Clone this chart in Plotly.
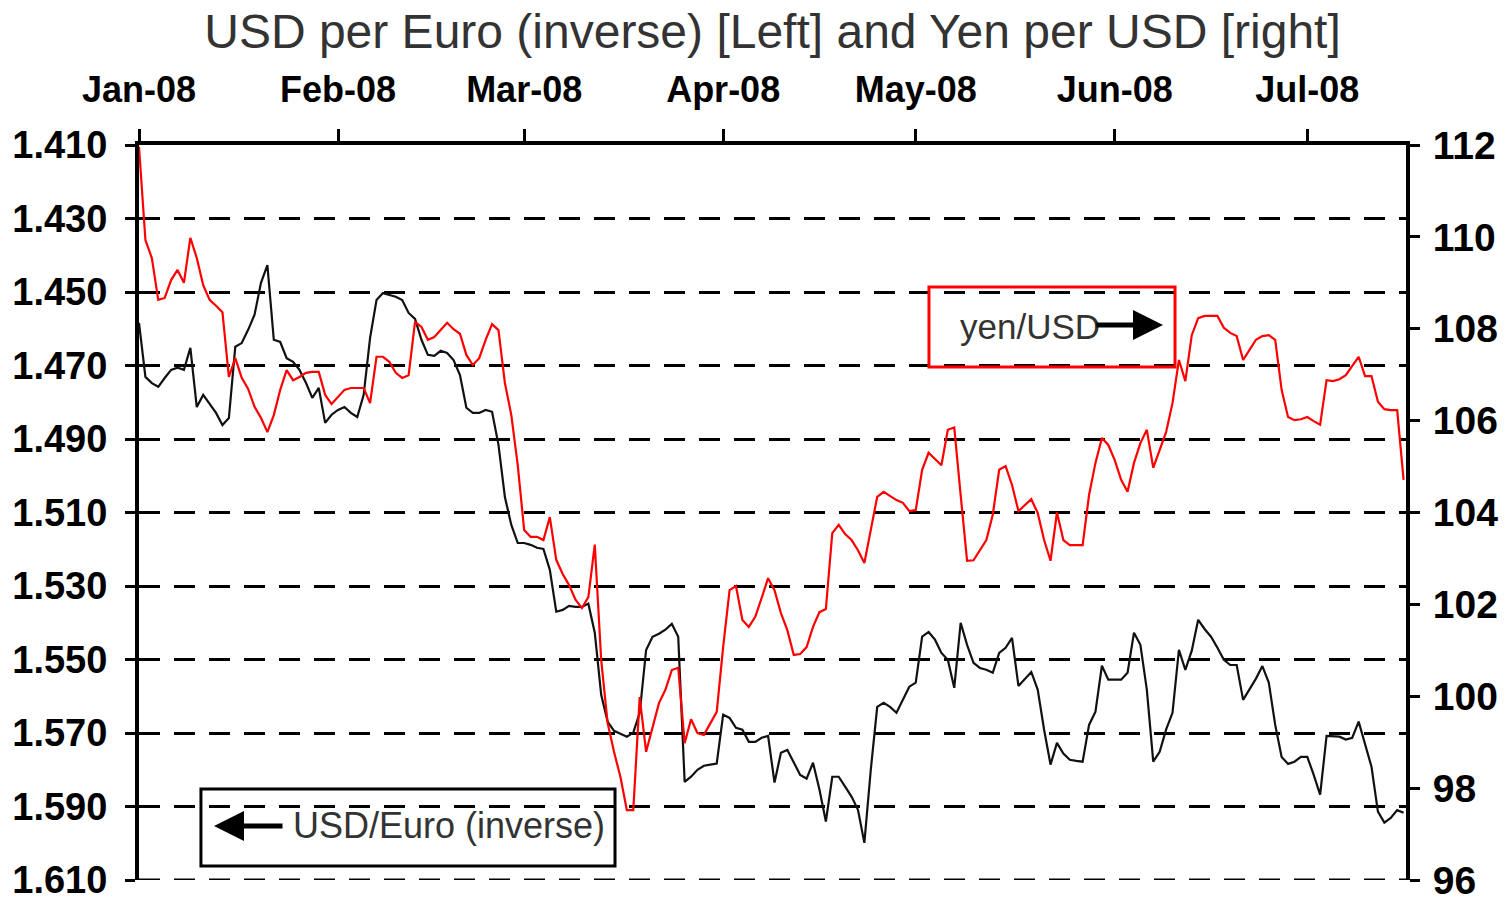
import plotly.graph_objects as go
import pandas as pd

# ---------------- data ----------------
START_DATE = "2008-01-01"          # first daily observation
END_OF_AXIS = "2008-07-16 09:00"   # right edge of the date axis

# USD per Euro (plotted on an inverted left axis), daily
usd_per_euro = [
    1.4584, 1.4731, 1.4748, 1.4758, 1.4734, 1.4712, 1.4706, 1.4712, 1.4652, 1.4813,
    1.4780, 1.4805, 1.4829, 1.4862, 1.4843, 1.4649, 1.4639, 1.4603, 1.4562, 1.4475,
    1.4427, 1.4630, 1.4636, 1.4680, 1.4690, 1.4712, 1.4747, 1.4788, 1.4761, 1.4856,
    1.4834, 1.4821, 1.4813, 1.4829, 1.4840, 1.4780, 1.4625, 1.4522, 1.4503, 1.4508,
    1.4513, 1.4522, 1.4557, 1.4573, 1.4630, 1.4671, 1.4674, 1.4660, 1.4666, 1.4685,
    1.4726, 1.4815, 1.4829, 1.4829, 1.4821, 1.4826, 1.4916, 1.5058, 1.5134, 1.5183,
    1.5183, 1.5188, 1.5196, 1.5199, 1.5256, 1.5370, 1.5365, 1.5354, 1.5357, 1.5357,
    1.5348, 1.5427, 1.5596, 1.5669, 1.5694, 1.5702, 1.5710, 1.5699, 1.5645, 1.5474,
    1.5438, 1.5430, 1.5419, 1.5403, 1.5438, 1.5833, 1.5819, 1.5800, 1.5789, 1.5786,
    1.5783, 1.5650, 1.5659, 1.5686, 1.5691, 1.5724, 1.5724, 1.5713, 1.5708, 1.5835,
    1.5754, 1.5746, 1.5781, 1.5814, 1.5824, 1.5781, 1.5854, 1.5941, 1.5819, 1.5819,
    1.5846, 1.5873, 1.5909, 1.5999, 1.5800, 1.5629, 1.5618, 1.5629, 1.5645, 1.5610,
    1.5574, 1.5563, 1.5438, 1.5425, 1.5446, 1.5482, 1.5501, 1.5577, 1.5400, 1.5460,
    1.5509, 1.5523, 1.5528, 1.5536, 1.5482, 1.5468, 1.5441, 1.5572, 1.5553, 1.5534,
    1.5582, 1.5691, 1.5786, 1.5727, 1.5756, 1.5773, 1.5776, 1.5778, 1.5678, 1.5642,
    1.5517, 1.5555, 1.5555, 1.5555, 1.5536, 1.5427, 1.5460, 1.5582, 1.5778, 1.5751,
    1.5691, 1.5645, 1.5474, 1.5528, 1.5476, 1.5392, 1.5417, 1.5438, 1.5468, 1.5501,
    1.5515, 1.5515, 1.5610, 1.5582, 1.5552, 1.5518, 1.5563, 1.5678, 1.5765, 1.5784,
    1.5778, 1.5765, 1.5765, 1.5814, 1.5868, 1.5708, 1.5710, 1.5710, 1.5718, 1.5713,
    1.5669, 1.5727, 1.5792, 1.5914, 1.5944, 1.5931, 1.5910, 1.5917,
]

# Yen per USD (right axis), daily
yen_per_usd = [
    111.96, 109.93, 109.54, 108.63, 108.67, 109.06, 109.28, 109.00, 109.98, 109.54,
    108.95, 108.63, 108.50, 108.36, 106.95, 107.36, 106.93, 106.69, 106.30, 106.06,
    105.75, 106.12, 106.67, 107.10, 106.88, 106.95, 107.04, 107.06, 107.06, 106.56,
    106.36, 106.51, 106.67, 106.71, 106.71, 106.71, 106.38, 107.39, 107.39, 107.28,
    107.04, 106.93, 106.99, 108.15, 108.04, 107.76, 107.82, 107.97, 108.13, 107.99,
    107.89, 107.43, 107.21, 107.36, 107.76, 108.10, 107.97, 106.82, 106.12, 105.03,
    103.62, 103.47, 103.47, 103.40, 103.90, 102.97, 102.66, 102.42, 102.10, 101.92,
    102.16, 103.30, 100.79, 99.42, 98.79, 98.24, 97.52, 97.52, 99.98, 98.79,
    99.33, 99.85, 100.14, 100.57, 100.62, 98.98, 99.50, 99.20, 99.16, 99.42,
    99.66, 101.07, 102.31, 102.40, 101.66, 101.51, 101.73, 102.14, 102.57, 102.31,
    101.81, 101.44, 100.90, 100.92, 101.07, 101.51, 101.83, 101.90, 103.55, 103.73,
    103.53, 103.40, 103.18, 102.90, 103.58, 104.34, 104.45, 104.36, 104.27, 104.21,
    104.03, 104.05, 104.93, 105.30, 105.17, 105.03, 105.80, 105.85, 104.38, 102.95,
    102.96, 103.18, 103.40, 103.95, 104.93, 105.01, 104.60, 104.03, 104.16, 104.29,
    103.99, 103.40, 102.95, 104.00, 103.40, 103.29, 103.29, 103.29, 104.38, 105.08,
    105.62, 105.47, 105.14, 104.71, 104.45, 105.08, 105.51, 105.80, 104.97, 105.36,
    105.75, 106.38, 107.32, 106.86, 107.86, 108.23, 108.28, 108.28, 108.28, 108.02,
    107.91, 107.84, 107.32, 107.54, 107.76, 107.84, 107.86, 107.76, 106.67, 106.08,
    106.01, 106.03, 106.08, 105.99, 105.91, 106.88, 106.86, 106.90, 106.99, 107.19,
    107.39, 106.97, 106.97, 106.41, 106.25, 106.23, 106.23, 104.71,
]

month_ticks = ["2008-01-01", "2008-02-01", "2008-03-01", "2008-04-01",
               "2008-05-01", "2008-06-01", "2008-07-01"]
month_labels = ["Jan-08", "Feb-08", "Mar-08", "Apr-08", "May-08", "Jun-08", "Jul-08"]

left_ticks = [1.410, 1.430, 1.450, 1.470, 1.490, 1.510, 1.530, 1.550, 1.570, 1.590, 1.610]
right_ticks = [96, 98, 100, 102, 104, 106, 108, 110, 112]

TITLE = "USD per Euro (inverse) [Left] and Yen per USD [right]"

dates = pd.date_range(START_DATE, periods=len(usd_per_euro), freq="D")

FONT = "Arial, 'Liberation Sans', sans-serif"
GRID_DASH = "21px,14px"

fig = go.Figure()
fig.add_trace(go.Scatter(x=dates, y=usd_per_euro, mode="lines", yaxis="y",
                         line=dict(color="#111111", width=2.2), name="USD/Euro (inverse)"))
fig.add_trace(go.Scatter(x=dates, y=yen_per_usd, mode="lines", yaxis="y2",
                         line=dict(color="#ff0000", width=2.2), name="yen/USD"))

fig.update_layout(
    width=1506, height=900,
    margin=dict(l=139, r=100, t=145, b=20, pad=0, autoexpand=False),
    paper_bgcolor="white", plot_bgcolor="white",
    showlegend=False,
    font=dict(family=FONT, color="black"),
    title=dict(text=TITLE, x=0.5, xref="paper", xanchor="center",
               y=1 - 31 / 900, yref="container", yanchor="middle",
               font=dict(size=48, color="#333333", family=FONT)),
    xaxis=dict(type="date", side="top", range=[START_DATE, END_OF_AXIS],
               tickvals=month_ticks, ticktext=month_labels,
               ticks="outside", ticklen=12, tickwidth=3, tickcolor="black",
               showline=True, linewidth=4, linecolor="black",
               showgrid=False, zeroline=False, automargin=False,
               ticklabelstandoff=13, ticklabeloverflow="allow",
               tickfont=dict(size=36, weight="bold", color="black", family=FONT)),
    yaxis=dict(range=[1.61, 1.41], tickvals=left_ticks, tickformat=".3f",
               ticks="outside", ticklen=10, tickwidth=3, tickcolor="black",
               showline=True, linewidth=4, linecolor="black",
               showgrid=True, gridcolor="black", gridwidth=3, griddash=GRID_DASH,
               zeroline=False, automargin=False, ticklabelstandoff=10,
               ticklabeloverflow="allow",
               tickfont=dict(size=38, weight="bold", color="black", family=FONT)),
    yaxis2=dict(range=[96, 112], tickvals=right_ticks, overlaying="y", side="right",
                ticks="outside", ticklen=10, tickwidth=3, tickcolor="black",
                showline=True, linewidth=4, linecolor="black",
                showgrid=False, zeroline=False, automargin=False, ticklabelstandoff=5,
                ticklabeloverflow="allow",
                tickfont=dict(size=39, weight="bold", color="black", family=FONT)),
)

# bottom gridline (at 1.610), which plotly leaves out at the plot edge
fig.add_shape(type="line", xref="paper", yref="y", x0=0, x1=1,
              y0=left_ticks[-1], y1=left_ticks[-1],
              line=dict(color="black", width=3, dash=GRID_DASH), layer="below")

# label boxes
fig.add_shape(type="rect", xref="paper", yref="paper",
              x0=0.6235, x1=0.8177, y0=0.698, y1=0.8068,
              line=dict(color="#ff0000", width=3), fillcolor="rgba(0,0,0,0)", layer="above")
fig.add_shape(type="rect", xref="paper", yref="paper",
              x0=0.0489, x1=0.3757, y0=0.019, y1=0.1238,
              line=dict(color="black", width=3), fillcolor="rgba(0,0,0,0)", layer="above")

fig.add_annotation(xref="paper", yref="paper", x=0.6464, y=0.7524,
                   xanchor="left", yanchor="middle", showarrow=False,
                   text="yen/USD", font=dict(size=35, color="#333333", family=FONT))
fig.add_annotation(xref="paper", yref="paper", x=0.8082, y=0.7551,
                   ax=-68, ay=0, text="", showarrow=True,
                   arrowhead=2, arrowsize=1.2, arrowwidth=5, arrowcolor="black")

fig.add_annotation(xref="paper", yref="paper", x=0.1196, y=0.0735,
                   xanchor="left", yanchor="middle", showarrow=False,
                   text="USD/Euro (inverse)", font=dict(size=36, color="#333333", family=FONT))
fig.add_annotation(xref="paper", yref="paper", x=0.0592, y=0.0735,
                   ax=70, ay=0, text="", showarrow=True,
                   arrowhead=2, arrowsize=1.2, arrowwidth=5, arrowcolor="black")

fig.write_html("out.html", config={"displayModeBar": False},
               post_script="document.body.style.margin='0';")
